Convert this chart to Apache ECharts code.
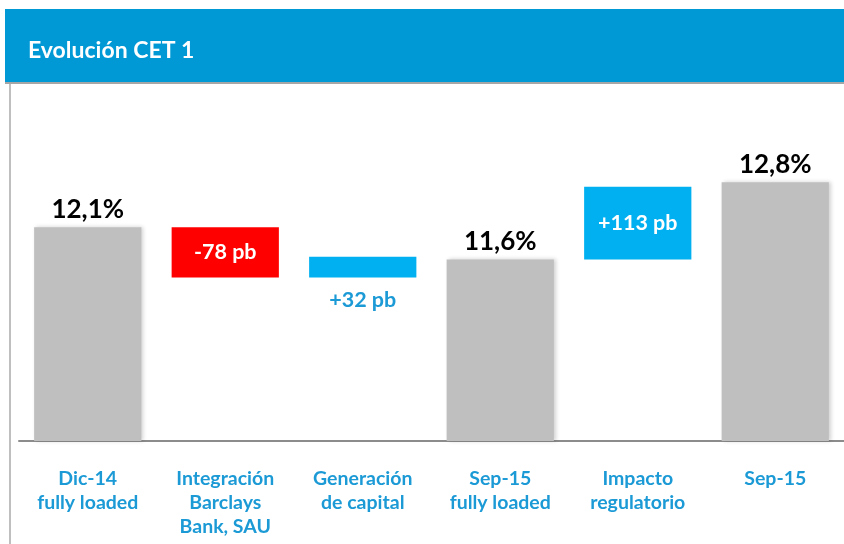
<!DOCTYPE html>
<html>
<head>
<meta charset="utf-8">
<script src="https://cdn.jsdelivr.net/npm/echarts@6/dist/echarts.min.js"></script>
<style>
  html, body { margin: 0; padding: 0; background: #fff; }
  #chart { width: 844px; height: 544px; }
</style>
</head>
<body>
<div id="chart"></div>
<script>
// categorías del eje x
const categories = [
  "Dic-14\nfully loaded",
  "Integración\nBarclays\nBank, SAU",
  "Generación\nde capital",
  "Sep-15\nfully loaded",
  "Impacto\nregulatorio",
  "Sep-15"
];
// totales en % (null = barra de variación)
const totals = [12.1, null, null, 11.6, null, 12.8];
// variaciones en puntos básicos
const deltasPb = [null, -78, 32, null, 113, null];

// base invisible y altura visible (cascada)
const baseData = [];
const deltaData = [];
let running = 0;
categories.forEach((c, i) => {
  if (totals[i] != null) {
    running = totals[i];
    baseData.push(null);
    deltaData.push(null);
  } else {
    const d = deltasPb[i] / 100;
    const low = d < 0 ? running + d : running;
    baseData.push(+low.toFixed(3));
    deltaData.push(+Math.abs(d).toFixed(3));
    running = running + d;
  }
});

const chart = echarts.init(document.getElementById("chart"));
const font = "Lato, 'Open Sans', sans-serif";
const blue = "#00B0F0";

chart.setOption({
  animation: false,
  textStyle: { fontFamily: font },
  graphic: [
    { type: "rect", shape: { x: 5, y: 9, width: 839, height: 73 }, style: { fill: "#0099D6" } },
    { type: "rect", shape: { x: 5, y: 82, width: 839, height: 2 }, style: { fill: "#A6A6A6" } },
    { type: "rect", shape: { x: 9, y: 84, width: 2, height: 460 }, style: { fill: "#BFBFBF" } },
    {
      type: "text", left: 28, top: 39,
      style: { text: "Evolución CET 1", fill: "#fff", font: "bold 23px " + font }
    }
  ],
  grid: { left: 19, right: 0, top: 92, bottom: 103 },
  xAxis: {
    type: "category",
    data: categories,
    axisLine: { lineStyle: { color: "#8C8C8C", width: 2 } },
    axisTick: { show: false },
    axisLabel: {
      color: "#1B9AD6", fontWeight: "bold", fontSize: 19.5,
      lineHeight: 24, margin: 26, interval: 0, fontFamily: font
    }
  },
  yAxis: {
    type: "value", min: 8.78, max: 14.2,
    show: false, splitLine: { show: false }
  },
  series: [
    {
      type: "bar", name: "total", barWidth: "78%", barGap: "-100%",
      data: totals,
      itemStyle: {
        color: "#BFBFBF", shadowColor: "rgba(0,0,0,0.18)",
        shadowBlur: 4, shadowOffsetX: 2
      },
      label: {
        show: true, position: "top", distance: 5,
        color: "#000", fontWeight: "bold", fontSize: 26, fontFamily: font,
        formatter: p => p.value.toFixed(1).replace(".", ",") + "%"
      }
    },
    {
      type: "bar", name: "base", stack: "w", barWidth: "78%",
      data: baseData,
      itemStyle: { color: "transparent" }
    },
    {
      type: "bar", name: "delta", stack: "w", barWidth: "78%",
      data: deltaData.map((v, i) => {
        if (v == null) return null;
        const pb = deltasPb[i];
        const small = Math.abs(pb) < 50;
        return {
          value: v,
          itemStyle: { color: pb < 0 ? "#FF0000" : blue },
          label: {
            show: true,
            position: small ? "bottom" : "inside",
            distance: 12,
            color: small ? "#1B9AD6" : "#fff",
            fontWeight: "bold", fontSize: 21.5, fontFamily: font,
            formatter: (pb > 0 ? "+" : "") + pb + " pb"
          }
        };
      })
    }
  ]
});
</script>
</body>
</html>
